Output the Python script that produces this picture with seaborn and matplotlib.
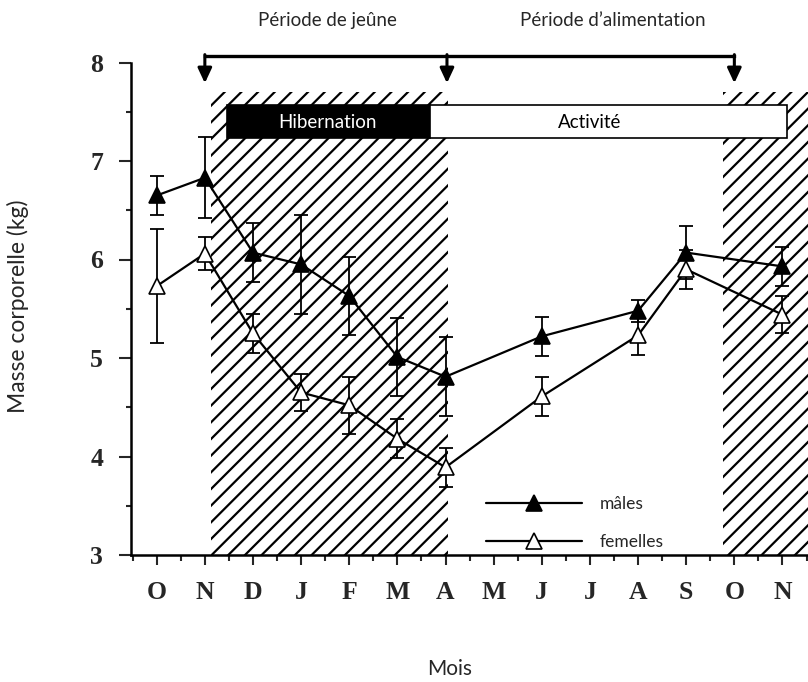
import numpy as np
import pandas as pd
import matplotlib
matplotlib.use("Agg")
import matplotlib.pyplot as plt
from matplotlib.patches import Rectangle
from matplotlib.ticker import MultipleLocator, FixedLocator
from matplotlib.lines import Line2D
import seaborn as sns

# Months along the axis (October to the following November)
mois = ["O", "N", "D", "J", "F", "M", "A", "M", "J", "J", "A", "S", "O", "N"]

# Sampling months (index into `mois`) and body mass, mean and error
pos_mesures = [0, 1, 2, 3, 4, 5, 6, 8, 10, 11, 13]
masse_males = [6.65, 6.83, 6.07, 5.95, 5.63, 5.01, 4.81, 5.22, 5.48, 6.07, 5.93]
err_males = [0.20, 0.41, 0.30, 0.50, 0.40, 0.40, 0.40, 0.20, 0.11, 0.27, 0.20]
masse_femelles = [5.73, 6.06, 5.25, 4.65, 4.52, 4.18, 3.89, 4.61, 5.23, 5.90, 5.44]
err_femelles = [0.58, 0.17, 0.20, 0.19, 0.29, 0.20, 0.20, 0.20, 0.20, 0.20, 0.19]

# Hatched fasting periods (x start, x end, top in kg)
jeune = [(1.12, 6.06, 7.70), (11.76, 14.0, 7.70)]

df = pd.DataFrame({
    "mois": pos_mesures * 2,
    "masse": masse_males + masse_femelles,
    "err": err_males + err_femelles,
    "sexe": ["mâles"] * len(pos_mesures) + ["femelles"] * len(pos_mesures),
})

sns.set_style("ticks")
plt.rcParams["font.family"] = ["Lato", "DejaVu Sans"]
plt.rcParams["hatch.linewidth"] = 1.6

fig = plt.figure(figsize=(8.08, 6.82), dpi=100)
ax = fig.add_axes([131 / 808, 1 - 555 / 682, 1 - 131 / 808, (555 - 62.5) / 682])

# Hatched fasting periods
for x0, x1, top in jeune:
    ax.fill_between([x0, x1], 3, top, facecolor="white", edgecolor="black",
                    hatch="//", linewidth=0, zorder=1)

# Hibernation / activity bands
ax.add_patch(Rectangle((1.46, 7.23), 5.68 - 1.46, 7.565 - 7.23,
                       facecolor="black", edgecolor="black", lw=1.2, zorder=2))
ax.add_patch(Rectangle((5.68, 7.23), 13.09 - 5.68, 7.565 - 7.23,
                       facecolor="white", edgecolor="black", lw=1.2, zorder=2))
ax.text(3.54, 7.395, "Hibernation", color="white", ha="center", va="center",
        fontsize=13.5, zorder=3)
ax.text(9.0, 7.395, "Activité", color="black", ha="center", va="center",
        fontsize=13.5, zorder=3)

# Bracket with arrows marking the start of each period
ax.plot([1.0, 12.0], [8.07, 8.07], color="black", lw=2.4, clip_on=False,
        solid_capstyle="projecting", zorder=4)
for xa in [1.0, 6.03, 12.0]:
    ax.annotate("", xy=(xa, 7.79), xytext=(xa, 8.08),
                arrowprops=dict(arrowstyle="-|>,head_length=0.9,head_width=0.42",
                                color="black", lw=2.2, shrinkA=0, shrinkB=0),
                annotation_clip=False, zorder=4)
ax.text(3.54, 8.43, "Période de jeûne", ha="center", va="center", fontsize=13.5,
        clip_on=False)
ax.text(9.48, 8.43, "Période d’alimentation", ha="center", va="center",
        fontsize=13.5, clip_on=False)

# Error bars
for sexe in ["mâles", "femelles"]:
    sub = df[df["sexe"] == sexe]
    ax.errorbar(sub["mois"], sub["masse"], yerr=sub["err"], fmt="none",
                ecolor="black", elinewidth=1.3, capsize=5, capthick=1.3, zorder=5)

# Mean body mass
sns.lineplot(data=df[df["sexe"] == "mâles"], x="mois", y="masse", ax=ax,
             color="black", lw=1.6, marker="^", markersize=11,
             markerfacecolor="black", markeredgecolor="black",
             markeredgewidth=1.2, zorder=6, label="mâles")
sns.lineplot(data=df[df["sexe"] == "femelles"], x="mois", y="masse", ax=ax,
             color="black", lw=1.6, marker="^", markersize=11,
             markerfacecolor="white", markeredgecolor="black",
             markeredgewidth=1.2, zorder=6, label="femelles")

handles = [
    Line2D([], [], color="black", lw=1.6, marker="^", markersize=11,
           markerfacecolor="black", markeredgecolor="black", markeredgewidth=1.2),
    Line2D([], [], color="black", lw=1.6, marker="^", markersize=11,
           markerfacecolor="white", markeredgecolor="black", markeredgewidth=1.2),
]
leg = ax.legend(handles, ["mâles", "femelles"], loc="upper left",
                bbox_to_anchor=(0.525, 0.12), frameon=False, fontsize=12.5,
                handlelength=5.5, handletextpad=1.0, labelspacing=1.25,
                borderpad=0, borderaxespad=0)

# Axes
ax.set_xlim(-0.534, 13.53)
ax.set_ylim(3, 8)
ax.xaxis.set_major_locator(FixedLocator(range(len(mois))))
ax.set_xticklabels(mois)
ax.xaxis.set_minor_locator(MultipleLocator(0.5))
ax.yaxis.set_major_locator(MultipleLocator(1))
ax.yaxis.set_minor_locator(MultipleLocator(0.5))
ax.set_xlabel("")
ax.set_ylabel("")
for lab in ax.get_xticklabels() + ax.get_yticklabels():
    lab.set_family(["Liberation Serif"])
    lab.set_fontweight("bold")
    lab.set_fontsize(18.5)
ax.tick_params(axis="x", which="major", length=7.5, width=1.5, pad=11, direction="out")
ax.tick_params(axis="x", which="minor", length=4.5, width=1.5, direction="out")
ax.tick_params(axis="y", which="major", length=9, width=1.5, pad=11, direction="out")
ax.tick_params(axis="y", which="minor", length=3.8, width=1.5, direction="out")
sns.despine(ax=ax, top=True, right=True)
for sp in ["left", "bottom"]:
    ax.spines[sp].set_linewidth(1.8)
    ax.spines[sp].set_color("black")

fig.text(18 / 808, 1 - 306 / 682, "Masse corporelle (kg)", rotation=90,
         ha="center", va="center", fontsize=16.5)
fig.text(450 / 808, 1 - 669 / 682, "Mois", ha="center", va="center", fontsize=15)

fig.savefig("out.png", dpi=100)
